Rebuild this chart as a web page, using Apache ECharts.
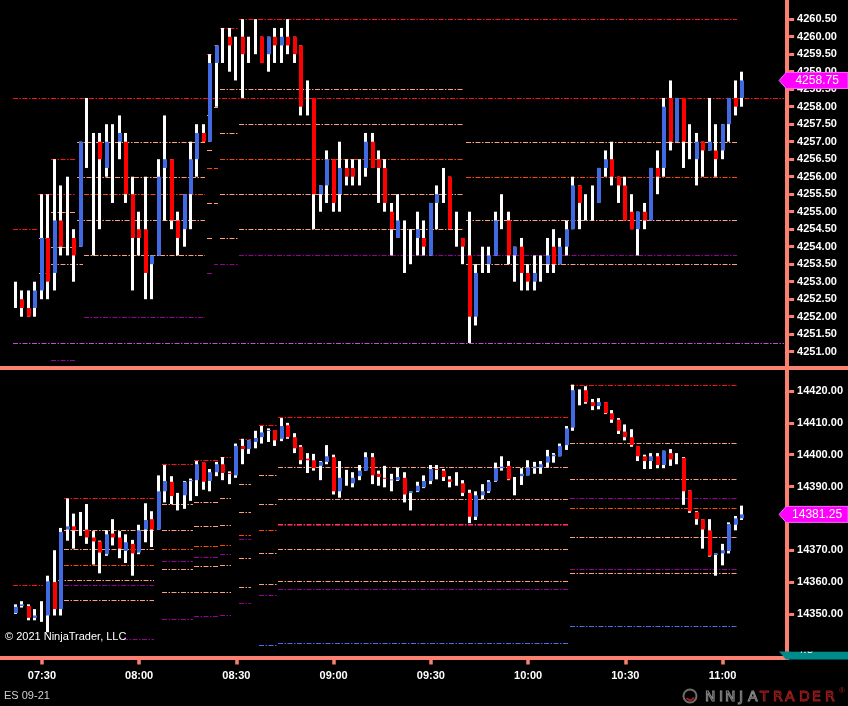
<!DOCTYPE html>
<html><head><meta charset="utf-8">
<script src="https://cdn.jsdelivr.net/npm/echarts@6/dist/echarts.min.js"></script>
<style>html,body{margin:0;padding:0;background:#000;}#c{width:848px;height:706px;}</style>
</head><body><div id="c"></div>
<script>
// ---------- categories (2-minute bars) ----------
const times = ["07:22","07:24","07:26","07:28","07:30","07:32","07:34","07:36","07:38","07:40","07:42","07:44","07:46","07:48","07:50","07:52","07:54","07:56","07:58",
"08:00","08:02","08:04","08:06","08:08","08:10","08:12","08:14","08:16","08:18","08:20","08:22","08:24","08:26","08:28","08:30","08:32","08:34","08:36","08:38","08:40","08:42","08:44","08:46","08:48","08:50","08:52","08:54","08:56","08:58",
"09:00","09:02","09:04","09:06","09:08","09:10","09:12","09:14","09:16","09:18","09:20","09:22","09:24","09:26","09:28","09:30","09:32","09:34","09:36","09:38","09:40","09:42","09:44","09:46","09:48","09:50","09:52","09:54","09:56","09:58",
"10:00","10:02","10:04","10:06","10:08","10:10","10:12","10:14","10:16","10:18","10:20","10:22","10:24","10:26","10:28","10:30","10:32","10:34","10:36","10:38","10:40","10:42","10:44","10:46","10:48","10:50","10:52","10:54","10:56","10:58",
"11:00","11:02","11:04","11:06","11:08","11:10","11:12","11:14","11:16","11:18"];

// ---------- ES 09-21 (top panel) ----------
const esOpen = [4252.5,4252.5,4252.25,4252.25,4252.75,4254.25,4253.25,4254.75,4254.0,4254.25,4254.0,4257.0,4257.0,4257.0,4256.25,4257.0,4257.0,4257.0,4255.5,4254.5,
4254.5,4253.5,4253.75,4256.25,4256.5,4254.75,4254.5,4255.5,4256.5,4257.25,4257.0,4259.25,4259.75,4260.0,4259.75,4260.0,4259.5,4260.0,4260.0,4259.5,
4260.0,4259.75,4260.0,4260.0,4259.75,4258.25,4258.25,4255.5,4255.75,4256.5,4255.5,4256.25,4256.25,4256.0,4256.25,4257.0,4256.5,4256.25,4255.0,4254.25,
4254.5,4254.25,4254.25,4254.25,4253.75,4255.25,4256.0,4256.0,4254.25,4254.25,4253.75,4252.0,4253.5,4253.5,4253.75,4254.75,4254.75,4253.75,4254.0,4253.25,
4253.0,4253.25,4253.5,4254.0,4253.5,4254.0,4254.5,4255.75,4255.25,4255.25,4255.25,4256.25,4256.5,4256.0,4255.75,4255.0,4254.5,4255.0,4254.75,4256.25,
4256.25,4258.25,4257.0,4258.25,4257.0,4256.5,4257.0,4256.75,4256.75,4256.75,4257.5,4258.25,4258.25];
const esHigh = [4253.0,4252.75,4252.75,4253.0,4255.5,4255.5,4256.5,4255.75,4256.0,4254.5,4257.0,4258.25,4257.25,4257.25,4257.5,4257.5,4257.75,4257.25,4256.0,4255.0,
4256.0,4253.75,4256.5,4257.75,4256.5,4255.0,4255.5,4257.0,4257.5,4257.5,4259.5,4259.75,4260.25,4260.25,4260.0,4260.5,4260.0,4260.5,4260.0,4260.0,
4260.25,4260.25,4260.5,4260.0,4259.75,4258.75,4258.25,4255.75,4256.75,4256.5,4257.0,4256.5,4256.5,4256.5,4257.25,4257.25,4256.75,4256.5,4255.25,4255.5,
4254.75,4254.5,4255.0,4254.75,4255.25,4255.75,4256.25,4256.0,4255.0,4254.25,4255.0,4253.5,4254.0,4254.0,4255.0,4255.5,4255.0,4254.0,4254.25,4253.5,
4253.75,4253.75,4254.25,4254.5,4254.25,4254.75,4256.0,4255.75,4255.5,4255.75,4256.25,4256.75,4257.0,4256.0,4256.0,4255.5,4255.0,4255.25,4256.25,4256.75,
4258.25,4258.75,4258.25,4258.25,4257.5,4257.25,4257.0,4258.25,4257.5,4257.5,4258.25,4258.75,4259.0];
const esLow = [4252.25,4252.0,4252.0,4252.0,4252.5,4252.5,4252.75,4253.75,4253.75,4253.0,4254.0,4256.25,4253.75,4254.5,4256.0,4255.25,4256.5,4255.25,4252.75,4253.75,
4252.5,4252.5,4253.75,4254.75,4254.5,4253.75,4254.0,4254.5,4256.0,4257.0,4257.0,4258.0,4259.25,4259.0,4258.75,4258.25,4259.25,4259.5,4259.25,4259.0,
4259.25,4259.25,4259.5,4259.25,4257.75,4257.75,4254.5,4255.0,4255.25,4255.0,4255.0,4255.75,4255.75,4255.75,4256.0,4256.25,4255.25,4255.0,4253.75,4254.25,
4253.25,4253.5,4253.75,4253.75,4253.75,4254.5,4255.25,4254.5,4254.0,4253.5,4251.25,4251.75,4253.25,4253.25,4253.75,4254.5,4253.5,4253.0,4252.75,4252.75,
4252.75,4253.0,4253.25,4253.25,4253.5,4253.75,4254.5,4254.5,4254.75,4254.75,4255.25,4256.0,4255.75,4255.25,4254.75,4254.5,4253.75,4254.5,4254.75,4255.5,
4256.0,4256.75,4257.0,4256.25,4256.5,4255.75,4256.0,4256.75,4256.0,4256.5,4257.0,4257.75,4258.0];
const esClose = [4252.5,4252.25,4252.0,4252.75,4254.25,4253.0,4254.75,4254.0,4254.0,4253.75,4257.0,4257.0,4257.0,4256.5,4257.0,4257.0,4257.25,4255.5,4254.25,4254.25,
4253.25,4253.75,4256.0,4256.5,4254.75,4254.25,4255.5,4256.5,4257.25,4257.0,4259.25,4259.75,4259.75,4259.75,4259.75,4259.5,4259.5,4260.0,4259.25,4260.0,
4259.75,4260.0,4259.75,4259.5,4258.0,4258.25,4255.5,4255.75,4256.5,4255.25,4256.25,4256.0,4256.0,4256.0,4257.0,4256.25,4256.25,4255.25,4254.5,4254.75,
4254.5,4254.25,4254.5,4254.0,4255.25,4255.5,4256.0,4254.5,4254.25,4254.0,4252.0,4253.25,4253.5,4253.75,4254.75,4254.75,4253.75,4254.0,4253.25,4253.0,
4253.25,4253.25,4253.75,4253.5,4254.0,4254.5,4255.75,4255.25,4255.25,4255.25,4256.25,4256.5,4256.0,4255.75,4254.75,4254.5,4255.0,4254.75,4256.25,4256.0,
4258.0,4257.0,4258.25,4257.0,4257.0,4257.0,4256.75,4257.0,4256.5,4257.5,4258.25,4258.0,4258.75];
const esTicks = [4251.0,4251.5,4252.0,4252.5,4253.0,4253.5,4254.0,4254.5,4255.0,4255.5,4256.0,4256.5,4257.0,4257.5,4258.0,4258.5,4259.0,4259.5,4260.0,4260.5];

// ES level lines: from bar, to bar, price, kind
const esLevelFrom  = [-2,-2,-0.5,3.4,3.6,3.6,5.4,5.4,5.4,5.4,5.4,9.4,9.4,10.5,9.4,10.5,10.5,29.5,29.5,29.5,29.5,29.5,29.5,29.5,30.5,30.5,30.5,30.5,30.5,31.5,31.5,31.5,31.5,31.5,31.5,31.5,34.4,34.4,34.4,34.4,69.4,69.4,69.4,69.4];
const esLevelTo    = [120,120,3.3,9.3,5.3,5.3,9.3,9.3,9.3,10.3,9.3,29.2,29.2,29.2,29.2,29.2,29.2,30.3,30.3,30.3,30.3,30.3,30.3,30.3,31.2,31.2,31.2,31.2,31.2,34.2,69.0,34.2,69.0,69.0,34.2,34.2,111.2,69.0,69.0,111.2,111.2,111.2,111.2,111.2];
const esLevelPrice = [4258.25,4251.25,4254.5,4255.5,4254.25,4253.25,4256.5,4255.0,4254.0,4253.5,4250.75,4257.0,4256.0,4255.5,4254.75,4253.75,4252.0,4259.5,4257.75,4256.75,4256.25,4255.25,4254.25,4253.25,4259.75,4258.0,4256.25,4255.25,4253.5,4260.25,4258.5,4257.25,4256.5,4255.5,4254.25,4253.5,4260.5,4257.5,4254.5,4253.75,4257.0,4256.0,4254.75,4253.5];
const esLevelKind  = ['r','m','r','r','s','s','r','s','s','s','p','s','s','o','s','s','p','r','s','s','o','s','s','p','r','s','o','s','p','r','s','s','o','s','s','p','r','s','s','p','s','o','s','s'];

// ---------- NQ (bottom panel) ----------
const nqOpen = [14350.25,14352.5,14352.5,14348.75,14350.0,14349.5,14360.0,14351.5,14376.5,14377.5,14376.25,14376.5,14374.0,14372.75,14368.75,14375.25,14374.0,14369.75,14372.0,14369.25,
14376.5,14379.75,14376.5,14388.5,14391.5,14387.25,14387.25,14391.75,14392.0,14397.5,14391.75,14394.5,14397.0,14394.25,14393.5,14402.75,14401.75,14404.0,14405.5,14407.5,
14407.75,14405.0,14409.25,14405.5,14402.5,14398.75,14398.25,14396.5,14397.75,14399.25,14388.5,14392.75,14391.0,14393.25,14395.0,14399.25,14394.0,14392.75,14392.0,14392.0,
14392.75,14388.0,14388.5,14389.75,14391.75,14395.5,14395.0,14392.25,14391.5,14391.0,14388.0,14380.5,14387.25,14388.5,14391.75,14395.75,14396.5,14392.5,14393.25,14393.5,
14395.75,14396.0,14397.5,14399.5,14399.5,14403.0,14408.5,14420.25,14420.25,14416.5,14415.25,14416.5,14413.0,14411.0,14407.25,14405.5,14402.75,14399.5,14398.0,14399.5,
14396.75,14400.5,14398.5,14399.0,14388.75,14382.0,14379.75,14376.25,14368.5,14369.0,14369.75,14378.0,14380.0];
const nqHigh = [14353.0,14354.0,14353.0,14351.5,14354.0,14362.0,14370.0,14377.0,14386.25,14381.5,14382.0,14384.5,14376.0,14373.0,14376.25,14379.75,14376.0,14375.0,14373.25,14378.0,
14384.75,14382.25,14393.5,14396.75,14393.25,14388.0,14391.75,14392.5,14398.0,14397.5,14395.5,14397.75,14399.25,14394.75,14403.5,14405.0,14404.5,14407.5,14409.0,14408.25,
14407.75,14411.5,14410.0,14406.75,14403.0,14400.5,14400.25,14398.0,14403.0,14400.0,14398.0,14395.25,14394.5,14396.75,14400.75,14400.5,14395.0,14396.5,14394.0,14396.0,
14394.5,14388.5,14391.5,14393.5,14396.75,14396.75,14395.5,14393.25,14394.5,14392.0,14389.0,14388.5,14390.75,14392.0,14397.5,14399.5,14398.0,14393.0,14395.75,14398.25,
14397.75,14398.0,14401.5,14400.5,14403.5,14409.0,14422.0,14420.5,14421.5,14417.5,14417.75,14416.5,14414.0,14411.5,14409.5,14408.0,14402.75,14400.0,14400.5,14400.5,
14401.25,14401.75,14400.5,14399.25,14388.75,14382.25,14379.75,14379.75,14369.0,14372.0,14378.75,14380.75,14384.0];
const nqLow = [14350.0,14352.0,14348.0,14348.0,14347.5,14344.25,14349.5,14349.5,14373.0,14370.5,14374.5,14372.0,14365.5,14362.75,14368.25,14371.5,14367.5,14366.0,14362.0,14368.75,
14372.5,14371.0,14376.5,14385.0,14384.5,14382.5,14383.0,14385.5,14387.0,14389.0,14388.5,14393.25,14392.0,14390.75,14392.75,14397.0,14400.25,14402.0,14403.5,14404.0,
14402.75,14404.25,14405.0,14400.5,14397.0,14394.25,14395.0,14392.0,14397.0,14387.5,14386.5,14390.25,14389.75,14392.0,14395.0,14390.75,14390.25,14389.75,14388.5,14391.75,
14385.0,14382.5,14388.25,14389.5,14390.75,14392.25,14391.75,14389.75,14390.25,14387.0,14378.5,14379.5,14386.0,14388.0,14391.5,14395.0,14392.0,14387.25,14390.5,14393.5,
14394.0,14394.0,14396.0,14397.5,14399.5,14401.5,14407.5,14415.5,14416.0,14414.0,14414.25,14412.75,14410.0,14406.5,14404.5,14402.5,14398.0,14395.5,14395.5,14395.75,
14395.75,14396.5,14397.0,14384.25,14381.75,14378.0,14370.5,14368.0,14362.0,14365.25,14369.0,14376.25,14379.5];
const nqClose = [14352.25,14353.0,14348.75,14349.5,14350.0,14360.25,14351.5,14375.75,14377.5,14376.25,14376.25,14374.0,14372.75,14369.25,14375.0,14374.0,14370.5,14372.5,14369.0,14376.25,
14379.5,14376.5,14388.5,14391.75,14387.0,14387.25,14391.5,14392.0,14397.0,14391.5,14394.5,14397.0,14394.25,14394.0,14402.75,14401.75,14404.5,14405.25,14407.0,14407.75,
14404.5,14409.0,14405.5,14402.0,14398.25,14398.25,14395.75,14397.75,14399.5,14388.5,14392.75,14392.75,14392.75,14395.0,14399.25,14393.5,14393.0,14392.5,14392.25,14393.0,
14387.5,14388.5,14390.25,14391.75,14395.5,14395.25,14393.0,14391.5,14391.5,14388.0,14380.5,14387.25,14388.5,14391.5,14395.75,14396.25,14392.25,14392.5,14394.0,14396.0,
14396.25,14397.0,14399.5,14400.0,14402.75,14408.25,14420.25,14420.25,14416.5,14415.25,14416.5,14413.0,14411.0,14407.5,14405.5,14403.0,14399.5,14398.0,14399.5,14396.75,
14401.25,14398.5,14398.5,14388.5,14382.25,14379.75,14376.5,14368.25,14369.0,14370.0,14378.25,14380.0,14381.25];
const nqTicks = [14350,14360,14370,14380,14390,14400,14410,14420];

const nqLevelFrom  = [-0.5,7.4,7.4,7.4,7.4,6.5,7.4,7.4,16.5,22.5,22.5,22.5,22.5,22.5,22.5,22.5,22.5,27.5,27.5,27.5,27.5,27.5,27.5,27.5,27.5,31.5,31.5,31.5,31.5,31.5,31.5,31.5,31.5,34.4,34.4,34.4,34.4,34.4,34.4,34.4,34.4,37.5,37.5,37.5,37.5,37.5,37.5,37.5,37.5,40.4,40.4,40.4,40.4,40.4,40.4,40.4,40.4,40.4,85.5,85.5,85.5,85.5,85.5,85.5,85.5,85.5,85.5];
const nqLevelTo    = [4.2,21.3,21.3,21.3,21.3,21.3,21.3,21.3,21.3,27.3,27.3,27.3,27.3,27.3,27.3,27.3,27.3,31.2,31.2,31.2,31.2,31.2,31.2,31.2,31.2,33.2,33.2,33.2,33.2,33.2,33.2,33.2,33.2,36.3,36.3,36.3,36.3,36.3,36.3,36.3,36.3,40.3,40.3,40.3,40.3,40.3,40.3,40.3,40.3,85.2,85.2,85.2,85.2,85.2,85.2,85.2,85.2,85.2,111.2,111.2,111.2,111.2,111.2,111.2,111.2,111.2,111.2];
const nqLevelPrice = [14359.0,14386.25,14376.5,14370.25,14365.5,14360.5,14359.0,14354.25,14342.0,14397.0,14384.5,14376.5,14370.5,14366.75,14364.25,14356.75,14348.25,14398.25,14385.25,14377.5,14371.25,14367.75,14365.0,14356.75,14349.25,14399.25,14386.25,14378.0,14371.5,14368.75,14365.25,14357.0,14349.75,14405.0,14390.75,14382.0,14374.75,14373.5,14367.5,14358.5,14353.5,14409.25,14393.75,14384.5,14376.5,14369.0,14359.25,14356.0,14340.25,14411.75,14396.0,14386.0,14378.25,14378.0,14370.25,14360.25,14357.75,14341.0,14422.0,14403.75,14392.25,14386.25,14383.25,14374.0,14364.25,14362.75,14346.25];
const nqLevelKind  = ['r','r','s','s','o','s','p','s','p','r','s','s','o','p','s','s','p','r','s','s','o','p','s','s','p','r','s','s','o','p','s','s','p','r','s','s','o','p','s','s','p','r','s','s','o','s','s','p','b','r','s','s','o','p','s','s','p','b','r','s','s','p','o','s','p','s','b'];

// ---------- styles ----------
const SALMON = '#fa8072';
const UP = '#4169e1', DOWN = '#ff0000';
const KIND_COLOR = {r:'#ff1010', o:'#ff4500', s:'#ffa07a', p:'#990099', m:'#c050d0', b:'#4a6cf0'};
const FONT = 'Liberation Sans, Arial, sans-serif';

function candleRows(o,h,l,c){ return o.map((v,i)=>[i, v, c[i], l[i], h[i]]); }
function levelRows(f,t,p){ return p.map((v,i)=>[0, v, f[i], t[i]]); }

function renderCandle(params, api){
  const i = api.value(0), o = api.value(1), c = api.value(2), l = api.value(3), h = api.value(4);
  const pt = api.coord([i, h]), pb = api.coord([i, l]);
  const yo = api.coord([i, o])[1], yc = api.coord([i, c])[1];
  const x = Math.round(pt[0]) - 2;
  const ch = [{type:'rect', shape:{x:x, y:pt[1], width:3, height:Math.max(1, pb[1]-pt[1])}, style:{fill:'#ffffff'}}];
  if (o !== c) ch.push({type:'rect', shape:{x:x, y:Math.min(yo,yc), width:4, height:Math.max(1, Math.abs(yo-yc))}, style:{fill: c > o ? UP : DOWN}});
  return {type:'group', children: ch};
}
function makeLevelRender(kinds){
  return function(params, api){
    const p = api.value(1), f = api.value(2), t = api.value(3);
    const c0 = api.coord([0, p]), c1 = api.coord([1, p]);
    const bw = c1[0] - c0[0];
    const cs = params.coordSys;
    let x1 = c0[0] + f*bw, x2 = c0[0] + t*bw;
    x1 = Math.round(Math.max(cs.x, x1)); x2 = Math.round(Math.min(cs.x + cs.width, x2));
    const y = Math.round(c0[1]) + 0.5;
    return {type:'line', shape:{x1:x1, y1:y, x2:x2, y2:y},
      style:{stroke: KIND_COLOR[kinds[params.dataIndex]], lineWidth:1, lineDash:[5,1.5,1.5,1.5]}};
  };
}
function renderMarker(params, api){
  const p = api.value(1);
  const y = api.coord([api.value(0), p])[1];
  const cs = params.coordSys;
  const tip = cs.x + cs.width - 5;
  return {type:'group', children:[
    {type:'polygon', shape:{points:[[tip,y],[tip+7,y-8],[848,y-8],[848,y+8],[tip+7,y+8]]}, style:{fill:'#ff00ff', stroke:'#ff66ff', lineWidth:1}},
    {type:'text', style:{text:p.toFixed(2), x:tip+38, y:y, fill:'#ffffff', fontSize:12, fontFamily:FONT, align:'center', verticalAlign:'middle'}}
  ]};
}
const isHalfHour = (idx, val) => /:(00|30)$/.test(val);

const logoLetters = ['N','I','N','J','A','T','R','A','D','E','R'];
const logoX = [705,719,725,739,748,760,773,785,799,812,825];
const logoEls = logoLetters.map((ch,i)=>({type:'text', z:5, style:{text:ch, x:logoX[i], y:697, fill:'transparent', stroke: i<5 ? '#8a8a8a' : '#a31d1d', lineWidth:1, fontSize:14, fontFamily:'DejaVu Sans', verticalAlign:'middle'}}));

const chart = echarts.init(document.getElementById('c'), null, {renderer:'canvas'});
chart.setOption({
  backgroundColor:'#000000',
  animation:false,
  grid:[
    {left:12.76, right:63.88, top:1.7, height:364, containLabel:false, outerBoundsMode:'none'},
    {left:12.76, right:63.88, top:370.3, height:288.2, containLabel:false, outerBoundsMode:'none'}
  ],
  xAxis:[
    {gridIndex:0, type:'category', data:times, boundaryGap:true, show:false},
    {gridIndex:1, type:'category', data:times, boundaryGap:true,
      axisLine:{show:false},
      axisTick:{show:true, alignWithLabel:true, interval:isHalfHour, length:6, lineStyle:{color:SALMON, width:3.5}},
      axisLabel:{interval:isHalfHour, margin:12, color:'#ffffff', fontSize:11, fontWeight:'bold', fontFamily:FONT},
      splitLine:{show:false}}
  ],
  yAxis:[
    {gridIndex:0, type:'value', position:'right', min:4250.6, max:4261.0, offset:5,
      splitLine:{show:false}, axisLine:{show:false},
      axisTick:{show:true, length:5, customValues:esTicks, lineStyle:{color:SALMON, width:3}},
      axisLabel:{customValues:esTicks, margin:8, color:'#ffffff', fontSize:11, fontWeight:'bold', fontFamily:FONT, formatter:v=>v.toFixed(2)}},
    {gridIndex:1, type:'value', position:'right', min:14336, max:14426.5, offset:5,
      splitLine:{show:false}, axisLine:{show:false},
      axisTick:{show:true, length:5, customValues:nqTicks, lineStyle:{color:SALMON, width:3}},
      axisLabel:{customValues:nqTicks, margin:8, color:'#ffffff', fontSize:11, fontWeight:'bold', fontFamily:FONT, formatter:v=>v.toFixed(2)}}
  ],
  series:[
    {type:'custom', name:'ES levels', xAxisIndex:0, yAxisIndex:0, z:3, silent:true,
      renderItem:makeLevelRender(esLevelKind), data:levelRows(esLevelFrom, esLevelTo, esLevelPrice), encode:{x:0, y:1}},
    {type:'custom', name:'NQ levels', xAxisIndex:1, yAxisIndex:1, z:3, silent:true,
      renderItem:makeLevelRender(nqLevelKind), data:levelRows(nqLevelFrom, nqLevelTo, nqLevelPrice), encode:{x:0, y:1}},
    {type:'custom', name:'ES 09-21', xAxisIndex:0, yAxisIndex:0, z:5,
      renderItem:renderCandle, data:candleRows(esOpen, esHigh, esLow, esClose), encode:{x:0, y:[1,2,3,4]}},
    {type:'custom', name:'NQ 09-21', xAxisIndex:1, yAxisIndex:1, z:5,
      renderItem:renderCandle, data:candleRows(nqOpen, nqHigh, nqLow, nqClose), encode:{x:0, y:[1,2,3,4]}},
    {type:'custom', name:'ES last', xAxisIndex:0, yAxisIndex:0, z:10, clip:false,
      renderItem:renderMarker, data:[[esClose.length-1, esClose[esClose.length-1]]], encode:{x:0, y:1}},
    {type:'custom', name:'NQ last', xAxisIndex:1, yAxisIndex:1, z:10, clip:false,
      renderItem:renderMarker, data:[[nqClose.length-1, nqClose[nqClose.length-1]]], encode:{x:0, y:1}}
  ],
  graphic:[
    {type:'rect', z:4, shape:{x:0, y:366, width:848, height:4}, style:{fill:SALMON}},
    {type:'rect', z:4, shape:{x:785, y:0, width:4, height:660}, style:{fill:SALMON}},
    {type:'rect', z:4, shape:{x:0, y:656, width:785, height:4}, style:{fill:SALMON}},
    {type:'text', z:6, style:{text:'4.5', x:805, y:650, fill:'#ffffff', fontSize:12, fontFamily:FONT, align:'center', verticalAlign:'middle'}},
    {type:'rect', z:7, shape:{x:791, y:636, width:57, height:15.5}, style:{fill:'#000000'}},
    {type:'polygon', z:5, shape:{points:[[779,651.5],[848,651.5],[848,659.5],[786,659.5]]}, style:{fill:'#008b8b'}},
    {type:'text', z:6, style:{text:'© 2021 NinjaTrader, LLC', x:5, y:637, fill:'#ffffff', fontSize:11, fontFamily:FONT, verticalAlign:'middle'}},
    {type:'text', z:6, style:{text:'ES 09-21', x:4, y:696, fill:'#d0d0d0', fontSize:11, fontFamily:FONT, verticalAlign:'middle'}},
    {type:'circle', z:5, shape:{cx:690, cy:696, r:6.5}, style:{fill:'transparent', stroke:'#6e6e6e', lineWidth:2}},
    {type:'arc', z:5, shape:{cx:690, cy:696, r:4, startAngle:0.3, endAngle:2.6}, style:{stroke:'#a31d1d', lineWidth:2, fill:'transparent'}},
    {type:'text', z:5, style:{text:'®', x:839, y:691, fill:'#a31d1d', fontSize:8, fontFamily:FONT, verticalAlign:'middle'}}
  ].concat(logoEls)
});
</script>
</body></html>
